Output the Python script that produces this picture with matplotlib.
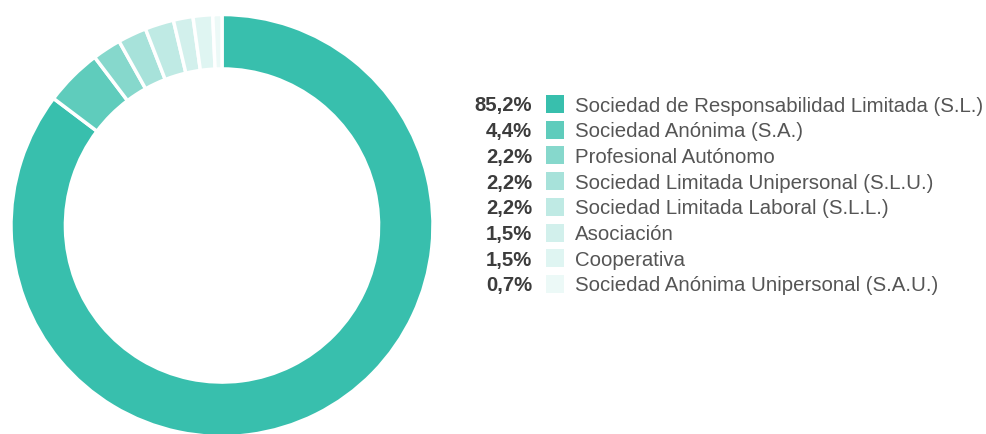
import matplotlib
matplotlib.use("Agg")
import matplotlib.pyplot as plt
from matplotlib.patches import Rectangle

categories = [
    "Sociedad de Responsabilidad Limitada (S.L.)",
    "Sociedad Anónima (S.A.)",
    "Profesional Autónomo",
    "Sociedad Limitada Unipersonal (S.L.U.)",
    "Sociedad Limitada Laboral (S.L.L.)",
    "Asociación",
    "Cooperativa",
    "Sociedad Anónima Unipersonal (S.A.U.)",
]
values = [85.2, 4.4, 2.2, 2.2, 2.2, 1.5, 1.5, 0.7]
pct_labels = ["85,2%", "4,4%", "2,2%", "2,2%", "2,2%", "1,5%", "1,5%", "0,7%"]
colors = ["#38BFAD", "#5FCCBC", "#86D8CC", "#A7E2DA", "#BFEAE4",
          "#D2F0EC", "#DFF5F2", "#ECF9F7"]

W, H = 986, 434
fig = plt.figure(figsize=(W / 100, H / 100), dpi=100)
fig.patch.set_facecolor("white")

# donut axes placed in pixels: centre (222, 225.5 from top), radius 211
cx, cy, r = 222, H - 225.5, 211
ax = fig.add_axes([(cx - r) / W, (cy - r) / H, 2 * r / W, 2 * r / H])
ax.pie(values, colors=colors, startangle=90, counterclock=False,
       radius=1.0, wedgeprops=dict(width=0.258, edgecolor="white", linewidth=2.5))
ax.set_xlim(-1, 1)
ax.set_ylim(-1, 1)
ax.set_aspect("equal")
ax.axis("off")

# legend: rows centred on the square, text sits on a baseline below centre
row0, step = 104, 25.7
for i, (lab, pct, c) in enumerate(zip(categories, pct_labels, colors)):
    y = H - (row0 + i * step)
    base = y - 7.5
    fig.text(532 / W, base / H, pct, ha="right", va="baseline", fontsize=14.6,
             fontweight="bold", color="#3C3C3C", family="Liberation Sans")
    fig.patches.append(Rectangle((546 / W, (y - 9) / H), 18 / W, 18 / H,
                                 transform=fig.transFigure, facecolor=c,
                                 edgecolor="none"))
    fig.text(575 / W, base / H, lab, ha="left", va="baseline", fontsize=14.7,
             color="#555555", family="Liberation Sans")

fig.savefig("out.png", dpi=100, facecolor="white")
